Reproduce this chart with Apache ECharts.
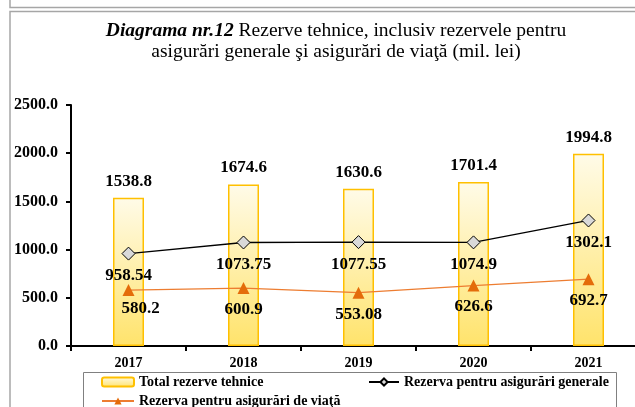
<!DOCTYPE html>
<html>
<head>
    <meta charset="utf-8">
    <title>Diagrama nr.12</title>
    <script src="https://cdn.jsdelivr.net/npm/echarts@6/dist/echarts.min.js"></script>
    <style>
        html, body { margin: 0; padding: 0; background: #fff; }
        #main { width: 635px; height: 407px; }
    </style>
</head>
<body>
    <div id="main"></div>
    <script type="text/javascript">
        var years = ['2017', '2018', '2019', '2020', '2021'];
        var totalReserves = [1538.8, 1674.6, 1630.6, 1701.4, 1994.8];
        var generalReserves = [958.54, 1073.75, 1077.55, 1074.9, 1302.1];
        var lifeReserves = [580.2, 600.9, 553.08, 626.6, 692.7];

        var serif = "'Liberation Serif', 'Times New Roman', serif";
        var nameTotal = 'Total rezerve tehnice';
        var nameGeneral = 'Rezerva pentru asigurări generale';
        var nameLife = 'Rezerva pentru asigurări de viaţă';

        var chart = echarts.init(document.getElementById('main'));

        // small nudge for the first life label, as in the source
        var lifeData = lifeReserves.map(function (v, i) {
            return i === 0 ? { value: v, label: { offset: [12, -3] } } : v;
        });

        var legendText = { fontFamily: serif, fontWeight: 'bold', fontSize: 14, color: '#000' };

        var option = {
            animation: false,
            backgroundColor: '#fff',
            grid: { left: 71, top: 105, width: 575, height: 241, outerBoundsMode: 'none' },
            graphic: [
                // page frame lines
                { type: 'polyline', shape: { points: [[10, 0], [10, 7.5], [635, 7.5]] }, style: { stroke: '#a6a6a6', lineWidth: 1.5, fill: null } },
                { type: 'polyline', shape: { points: [[635, 11.5], [10, 11.5], [10, 407]] }, style: { stroke: '#a6a6a6', lineWidth: 1.5, fill: null } },
                // legend box
                { type: 'rect', shape: { x: 83.5, y: 372.5, width: 533, height: 60 }, style: { stroke: '#808080', lineWidth: 1, fill: null } },
                // title
                {
                    type: 'text', x: 336, y: 20,
                    style: {
                        text: '{b|Diagrama nr.12} Rezerve tehnice, inclusiv rezervele pentru\nasigurări generale şi asigurări de viaţă (mil. lei)',
                        align: 'center',
                        fontFamily: serif, fontSize: 19.5, lineHeight: 21.5, fill: '#000',
                        rich: {
                            b: { fontFamily: serif, fontSize: 19.5, fontWeight: 'bold', fontStyle: 'italic', lineHeight: 21.5 }
                        }
                    }
                }
            ],
            legend: [
                { data: [nameTotal], left: 101, top: 375, itemWidth: 32, itemHeight: 9, textStyle: legendText, padding: 0 },
                { data: [nameGeneral], left: 368, top: 375, itemWidth: 30, itemHeight: 9, textStyle: legendText, padding: 0 },
                { data: [nameLife], left: 101, top: 394, itemWidth: 32, itemHeight: 9, textStyle: legendText, padding: 0 }
            ],
            xAxis: {
                type: 'category',
                data: years,
                axisLine: { lineStyle: { color: '#000', width: 2 } },
                axisTick: { show: true, length: 5, lineStyle: { color: '#000', width: 2 } },
                axisLabel: { fontFamily: serif, fontWeight: 'bold', fontSize: 14, color: '#000', margin: 10 }
            },
            yAxis: {
                type: 'value',
                min: 0,
                max: 2500,
                interval: 500,
                splitLine: { show: false },
                axisLine: { show: true, lineStyle: { color: '#000', width: 2 } },
                axisTick: { show: true, length: 5, lineStyle: { color: '#000', width: 2 } },
                axisLabel: {
                    fontFamily: serif, fontWeight: 'bold', fontSize: 16, color: '#000', margin: 13,
                    formatter: function (v) { return v.toFixed(1); }
                }
            },
            series: [
                {
                    name: nameTotal,
                    type: 'bar',
                    data: totalReserves,
                    barWidth: 31,
                    itemStyle: {
                        color: new echarts.graphic.LinearGradient(0, 0, 0, 1, [
                            { offset: 0, color: '#FFFBE8' },
                            { offset: 1, color: '#FFE36B' }
                        ]),
                        borderColor: '#FFC000',
                        borderWidth: 1.5
                    },
                    label: {
                        show: true, position: 'top', distance: 8,
                        fontFamily: serif, fontWeight: 'bold', fontSize: 17, color: '#000',
                        formatter: function (p) { return p.value; }
                    }
                },
                {
                    name: nameGeneral,
                    type: 'line',
                    data: generalReserves,
                    symbol: 'diamond',
                    symbolSize: 13,
                    lineStyle: { color: '#000', width: 1.3 },
                    itemStyle: { color: '#D9D9D9', borderColor: '#000', borderWidth: 1 },
                    label: {
                        show: true, position: 'bottom', distance: 7,
                        fontFamily: serif, fontWeight: 'bold', fontSize: 17, color: '#000'
                    },
                    z: 3
                },
                {
                    name: nameLife,
                    type: 'line',
                    data: lifeData,
                    symbol: 'triangle',
                    symbolSize: 12,
                    lineStyle: { color: '#ED7D31', width: 1.2 },
                    itemStyle: { color: '#E46C0A', borderColor: '#E46C0A', borderWidth: 0 },
                    label: {
                        show: true, position: 'bottom', distance: 7,
                        fontFamily: serif, fontWeight: 'bold', fontSize: 17, color: '#000'
                    },
                    z: 4
                }
            ]
        };

        chart.setOption(option);
    </script>
</body>
</html>
